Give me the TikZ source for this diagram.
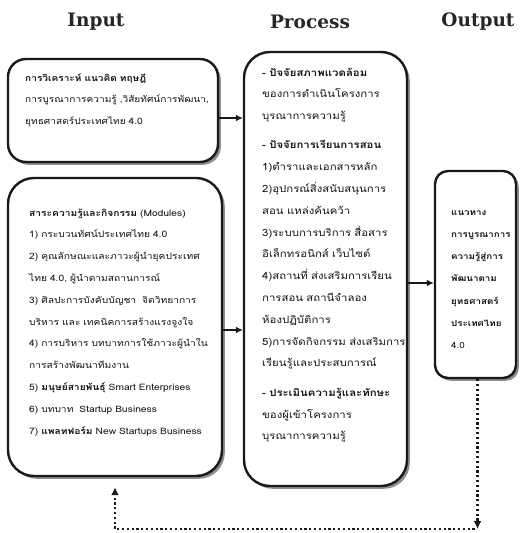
\documentclass[tikz,border=0pt]{standalone}
\usepackage{fontspec}
\setmainfont{Liberation Sans}
\newfontfamily\thai[Script=Thai,FakeStretch=1.15]{Loma}
\newfontfamily\headfont{DejaVu Serif}
\usetikzlibrary{arrows.meta,shadows}
\begin{document}
\begin{tikzpicture}[x=1pt,y=-1pt,
  box/.style={draw=black!90, line width=2.4pt, fill=white,
    drop shadow={shadow xshift=2.8pt, shadow yshift=-2.8pt, fill=black!45, opacity=1},
    inner sep=0pt},
  txt/.style={anchor=base west, inner sep=0pt, align=left, text=black!92},
  head/.style={font={\headfont\bfseries\fontsize{18.5}{18.5}\selectfont}, text=black!85, inner sep=0pt},
  arr/.style={line width=2pt, draw=black!90, -{Latex[length=7pt,width=7pt]}},
  dotarr/.style={line width=2.4pt, draw=black!90, dash pattern=on 2.2pt off 2.6pt,
    -{Latex[length=8pt,width=8pt]}}
]
\useasboundingbox (0,0) rectangle (529,533);

% headings
\node[head] (hin) at (96,22) {Input};
\node[head] (hpr) at (310,22) {Process};
\node[head] (hout) at (478,22) {Output};

% boxes
\node[box, rounded corners=18pt, minimum width=210pt, minimum height=103pt] (A) at (113,110.5) {};
\node[box, rounded corners=26pt, minimum width=214pt, minimum height=298pt] (B) at (115,327) {};
\node[box, rounded corners=26pt, minimum width=163pt, minimum height=434pt] (C) at (325.5,269) {};
\node[box, rounded corners=13pt, minimum width=81pt, minimum height=207pt] (D) at (475.5,274.5) {};

% texts
\node[txt, text width=200pt, font={\thai\fontsize{8.8}{21.6}\selectfont}] (tA) at (25,81) {%
\textbf{การวิเคราะห์ แนวคิด ทฤษฎี}\\
การบูรณาการความรู้ ,วิสัยทัศน์การพัฒนา,\\
ยุทธศาสตร์ประเทศไทย 4.0};

\node[txt, text width=205pt, font={\thai\fontsize{8.9}{21.8}\selectfont}] (tB) at (29,216) {%
\textbf{สาระความรู้และกิจกรรม} (Modules)\\
1) กระบวนทัศน์ประเทศไทย 4.0\\
2) คุณลักษณะและภาวะผู้นำยุคประเทศ\\
ไทย 4.0, ผู้นำตามสถานการณ์\\
3) ศิลปะการบังคับบัญชา\ \ จิตวิทยาการ\\
บริหาร และ เทคนิคการสร้างแรงจูงใจ\\
4) การบริหาร บทบาทการใช้ภาวะผู้นำใน\\
การสร้างพัฒนาทีมงาน\\
5) \textbf{มนุษย์สายพันธุ์} Smart Enterprises\\
6) บทบาท\ \ Startup Business\\
7) \textbf{แพลทฟอร์ม} New Startups Business};

\node[txt, text width=160pt, font={\thai\fontsize{9.9}{21.8}\selectfont}] (tC) at (262,76) {%
\textbf{- ปัจจัยสภาพแวดล้อม}\\
ของการดำเนินโครงการ\\
บุรณาการความรู้\\[7.5pt]
\textbf{- ปัจจัยการเรียนการสอน}\\
1)ตำราและเอกสารหลัก\\
2)อุปกรณ์สิ่งสนับสนุนการ\\
สอน แหล่งค้นคว้า\\
3)ระบบการบริการ สื่อสาร\\
อิเล็กทรอนิกส์ เว็บไซต์\\
4)สถานที่ ส่งเสริมการเรียน\\
การสอน สถานีจำลอง\\
ห้องปฏิบัติการ\\
5)การจัดกิจกรรม ส่งเสริมการ\\
เรียนรู้และประสบการณ์\\[7.5pt]
\textbf{- ประเมินความรู้และทักษะ}\\
ของผู้เข้าโครงการ\\
บุรณาการความรู้};

\node[txt, text width=80pt, font={\thai\fontsize{8.5}{22.3}\selectfont}] (tD) at (451,215) {%
\textbf{แนวทาง}\\
\textbf{การบูรณาการ}\\
\textbf{ความรู้สู่การ}\\
\textbf{พัฒนาตาม}\\
\textbf{ยุทธศาสตร์}\\
\textbf{ประเทศไทย}\\
4.0};

% arrows
\draw[arr] ([yshift=-7.5pt]A.east) -- ([yshift=-7.5pt]A.east -| C.west);
\draw[arr] ([yshift=-3pt]B.east) -- ([yshift=-3pt]B.east -| C.west);
\draw[arr] ([yshift=-14pt]C.east) -- ([yshift=-14pt]C.east -| D.west);

% feedback loop
\coordinate (f1) at ([xshift=2pt]D.south |- 0,529);
\coordinate (f2) at (B.south |- 0,529);
\draw[dotarr] ([xshift=2pt]D.south) -- (f1);
\draw[dotarr] ([xshift=-3pt]f1) -- (f2) -- ([yshift=-10pt]B.south);
\end{tikzpicture}
\end{document}
